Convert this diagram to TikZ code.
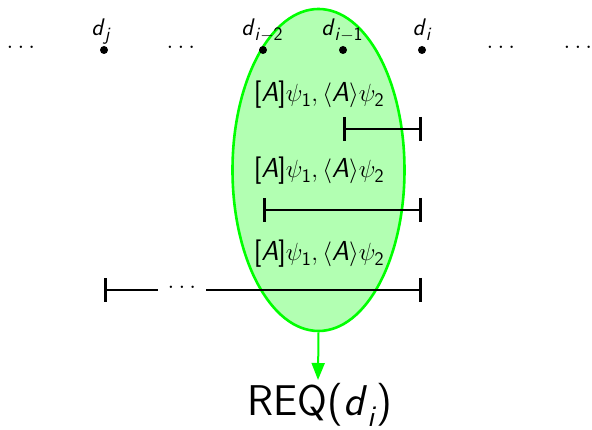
\documentclass[tikz,border=0pt]{standalone}
\usepackage{amsmath}
\usetikzlibrary{shapes.geometric,arrows.meta}
\newcommand{\sA}{\textsf{\itshape A}}
\newcommand{\fml}{$\textsf{[}\sA\textsf{]}\psi_{\textsf{1}}, \langle\sA\rangle\psi_{\textsf{2}}$}
\newcommand{\dlab}[1]{\textit{d}\raisebox{-5pt}{\fontsize{19}{21}\selectfont #1}}
\begin{document}
\begin{tikzpicture}[x=1pt,y=1pt,
  dotpt/.style={circle,fill=black,inner sep=0pt,minimum size=8pt},
  lbl/.style={font=\fontsize{24}{28}\selectfont\sffamily,anchor=base,inner sep=0pt},
  fmla/.style={font=\fontsize{27.5}{32}\selectfont\sffamily,anchor=base,inner sep=0pt},
  dotsn/.style={font=\fontsize{25}{30}\selectfont\sffamily,inner sep=0pt},
  intv/.style={line width=2.6pt,{Bar[width=24pt]}-{Bar[width=24pt]}},
  seg/.style={line width=2.6pt},
  grp/.style={ellipse,draw=green,fill=green!30,line width=2.6pt,minimum width=172pt,minimum height=322pt,inner sep=0pt}
]
\useasboundingbox (0,0) rectangle (592,430);
% group ellipse
\node[grp] (grp) at (318.5,260) {};
% top row
\node[dotsn] (e1) at (21,383) {$\ldots$};
\node[dotpt] (dj) at (104,380) {};
\node[dotsn] (e2) at (181,383) {$\ldots$};
\node[dotpt] (di2) at (263,380) {};
\node[dotpt] (di1) at (343,380) {};
\node[dotpt] (di) at (422,380) {};
\node[dotsn] (e3) at (501,383) {$\ldots$};
\node[dotsn] (e4) at (578,383) {$\ldots$};
\node[lbl] (ldj) at (101,394) {\dlab{\textit{j}}};
\node[lbl] (ldi2) at (262,394) {\dlab{\textit{i}$-$2}};
\node[lbl] (ldi1) at (342,394) {\dlab{\textit{i}$-$1}};
\node[lbl] (ldi) at (422,394) {\dlab{\textit{i}}};
% formulas
\node[fmla] (f1) at (319,328) {\fml};
\node[fmla] (f2) at (319,252) {\fml};
\node[fmla] (f3) at (319,169) {\fml};
% intervals
\coordinate (a1) at (343,301);
\coordinate (b1) at (422,301);
\draw[intv] (a1) -- (b1);
\coordinate (a2) at (263,220);
\coordinate (b2) at (422,220);
\draw[intv] (a2) -- (b2);
\coordinate (a3) at (104,140);
\coordinate (b3) at (422,140);
\node[dotsn,minimum width=48pt] (gap) at (182,143) {$\ldots$};
\draw[seg,{Bar[width=24pt]}-] (a3) -- (gap.west |- a3);
\draw[seg,-{Bar[width=24pt]}] (gap.east |- b3) -- (b3);
% result
\node[font=\fontsize{43}{50}\selectfont\sffamily,anchor=base,inner sep=0pt] (req) at (320,14) {REQ(\textit{d}\textsubscript{\textit{i}})};
\draw[green,line width=2pt,-{Triangle[length=17pt,width=13pt]}] (grp.south) -- (318,50);
\end{tikzpicture}
\end{document}
